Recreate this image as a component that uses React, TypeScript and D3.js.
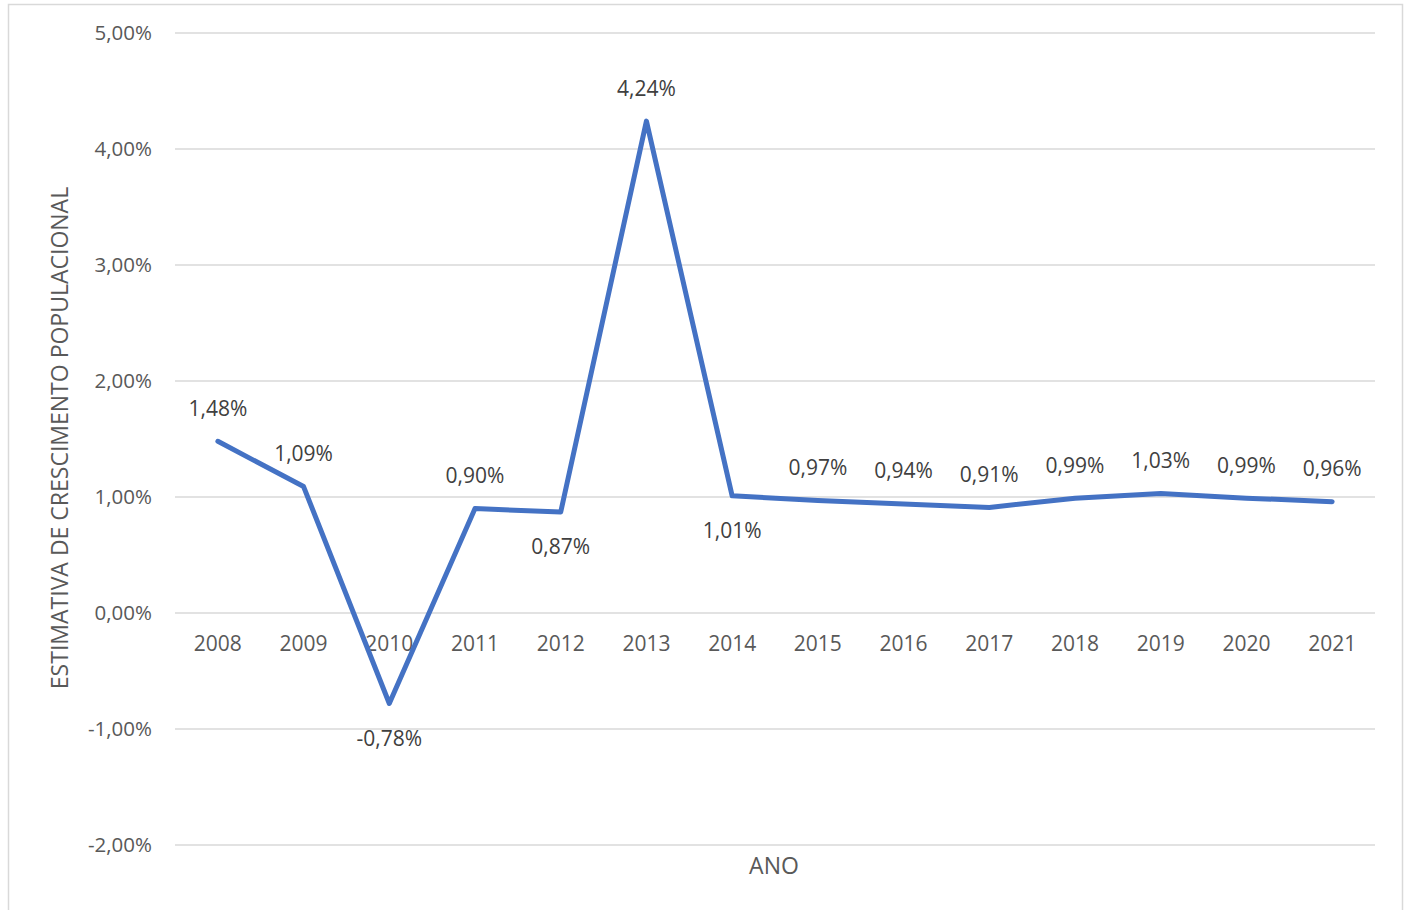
import React from "react";
import * as d3 from "d3";

const years = ["2008","2009","2010","2011","2012","2013","2014","2015","2016","2017","2018","2019","2020","2021"];
const growth = [1.48, 1.09, -0.78, 0.90, 0.87, 4.24, 1.01, 0.97, 0.94, 0.91, 0.99, 1.03, 0.99, 0.96];
const labelBelow = [false, false, true, false, true, false, true, false, false, false, false, false, false, false];
const yTicks = [-2, -1, 0, 1, 2, 3, 4, 5];

const W = 1408, H = 910;
const left = 175, right = 1375, top = 33, bottom = 845;
const font = "'Open Sans', sans-serif";
const textColor = "#595959";

const fmt = (v: number) => v.toFixed(2).replace(".", ",") + "%";

export default function App() {
  const x = d3.scaleBand<string>().domain(years).range([left, right]);
  const y = d3.scaleLinear().domain([-2, 5]).range([bottom, top]);
  const line = d3.line<number>()
    .x((_, i) => (x(years[i]) as number) + x.bandwidth() / 2)
    .y((d) => y(d));

  return (
    <svg width={W} height={H} style={{ position: "absolute", left: 0, top: 0 }}>
      <rect x={0} y={0} width={W} height={H} fill="#fff" />
      <rect x={8.5} y={4.5} width={1394} height={920} fill="none" stroke="#d9d9d9" strokeWidth={1.5} />
      {yTicks.map((t) => (
        <g key={t}>
          <line x1={left} x2={right} y1={y(t)} y2={y(t)} stroke="#d9d9d9" strokeWidth={1.5} />
          <text x={152} y={y(t)} dy="0.35em" textAnchor="end" fontFamily={font} fontSize={20.5} fill={textColor}>
            {fmt(t)}
          </text>
        </g>
      ))}
      {years.map((yr) => (
        <text key={yr} x={(x(yr) as number) + x.bandwidth() / 2} y={y(0) + 31} dy="0.35em" textAnchor="middle"
          fontFamily={font} fontSize={21} fill={textColor}>{yr}</text>
      ))}
      <path d={line(growth) || ""} fill="none" stroke="#4472C4" strokeWidth={5} strokeLinejoin="round" strokeLinecap="round" />
      {growth.map((v, i) => (
        <text key={i} x={(x(years[i]) as number) + x.bandwidth() / 2} y={y(v) + (labelBelow[i] ? 35 : -33)} dy="0.35em"
          textAnchor="middle" fontFamily={font} fontSize={21} fill="#404040">{fmt(v)}</text>
      ))}
      <text x={774} y={866} dy="0.35em" textAnchor="middle" fontFamily={font} fontSize={23} fill={textColor}>ANO</text>
      <text transform={`translate(60,438) rotate(-90)`} dy="0.35em" textAnchor="middle" fontFamily={font} fontSize={23} fill={textColor}>
        ESTIMATIVA DE CRESCIMENTO POPULACIONAL
      </text>
    </svg>
  );
}
